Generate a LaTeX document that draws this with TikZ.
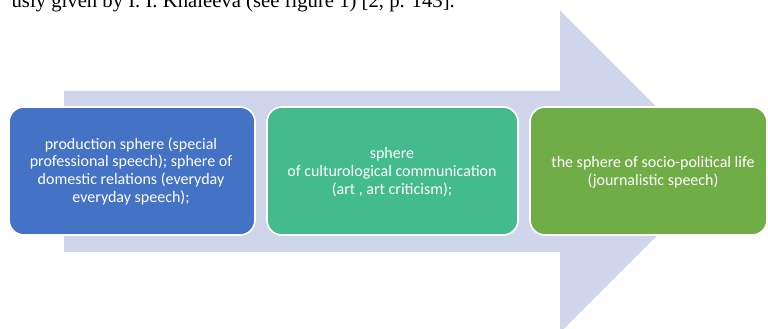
\documentclass[tikz,border=0pt]{standalone}
\usepackage{fontspec}
\setmainfont{Carlito}
\newfontfamily\timesfont{Liberation Serif}
\definecolor{arrowcol}{HTML}{CFD5EA}
\definecolor{boxblue}{HTML}{4472C4}
\definecolor{boxteal}{HTML}{44BB8C}
\definecolor{boxgreen}{HTML}{70AD47}
\begin{document}
\begin{tikzpicture}[x=1pt,y=1pt,
  phase/.style={draw=white, line width=1.6pt, rounded corners=15pt},
  phasetext/.style={text=white, font=\fontsize{16}{17.7}\selectfont, align=center, inner sep=0pt}]
\useasboundingbox (0,0) rectangle (768,329);
\clip (0,0) rectangle (768,329);
% big arrow
\fill[arrowcol] (64,77) -- (64,238) -- (560,238) -- (560,318.5) -- (721,157.5)
  -- (560,-3.5) -- (560,77) -- cycle;
% boxes
\path[phase, fill=boxblue] (9,94) rectangle (255,222);
\node[phasetext] (b1) at (131,158) {production sphere (special\\professional speech); sphere of\\domestic relations (everyday\\everyday speech);};
\path[phase, fill=boxteal] (267,94) rectangle (518,222);
\node[phasetext] (b2) at (392,157) {sphere\\of culturological communication\\(art , art criticism);};
\path[phase, fill=boxgreen] (530,94) rectangle (767,222);
\node[phasetext] (b3) at (653,156.5) {the sphere of socio-political life\\(journalistic speech)};
% cut-off caption line at top
\node[anchor=base east, inner sep=0pt, font=\timesfont\fontsize{20.7}{24}\selectfont] (cap) at (455,321)
  {usly given by I. I. Khaleeva (see figure 1) [2, p. 143].};
\end{tikzpicture}
\end{document}
